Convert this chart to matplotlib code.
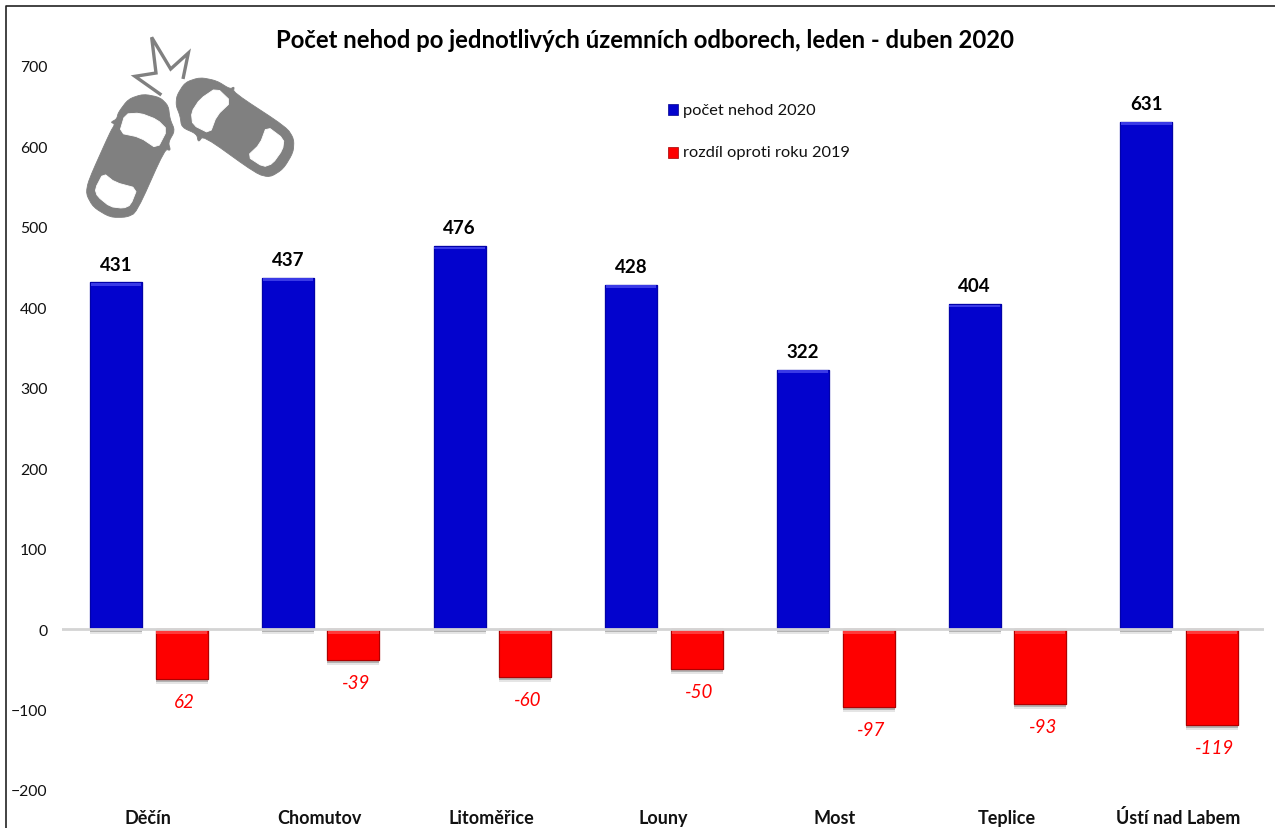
import matplotlib
matplotlib.use("Agg")
import numpy as np
import matplotlib.pyplot as plt
from matplotlib.patches import Polygon, Rectangle
import matplotlib.patheffects as pe

plt.rcParams['font.family'] = ['Lato', 'DejaVu Sans']

# Data
categories = ['Děčín', 'Chomutov', 'Litoměřice', 'Louny', 'Most', 'Teplice', 'Ústí nad Labem']
pocet_2020 = [431, 437, 476, 428, 322, 404, 631]
rozdil_2019 = [-62, -39, -60, -50, -97, -93, -119]
rozdil_labels = ['62', '-39', '-60', '-50', '-97', '-93', '-119']
yticks = [-200, -100, 0, 100, 200, 300, 400, 500, 600, 700]

W, H = 1275, 829
fig = plt.figure(figsize=(W / 100, H / 100), dpi=100)


def chaikin(pts, n=2):
    # rounds off the corners of a traced outline
    p = np.array(pts, dtype=float)
    for _ in range(n):
        q = np.roll(p, -1, axis=0)
        p = np.column_stack([0.8 * p + 0.2 * q, 0.2 * p + 0.8 * q]).reshape(-1, 2)
    return p


# overlay in pixel coordinates for the frame and the icon
bg = fig.add_axes([0, 0, 1, 1])
bg.set_xlim(0, W)
bg.set_ylim(H, 0)
bg.axis('off')
bg.plot([6, 6, W], [H, 7, 7], color='#222222', lw=1.2)

# axes placed so that 0 sits at y=630 and 100 units = 80.4 px
top, bottom = 67, 791
ax = fig.add_axes([62 / W, 1 - bottom / H, (1264 - 62) / W, (bottom - top) / H])
ax.patch.set_alpha(0)
ax.set_xlim(-0.5, 6.5)
ax.set_ylim(-200, 700)

x = np.arange(len(categories))
bar_w = 0.303
off_blue, off_red = -0.185, 0.197
shadow = [pe.withSimplePatchShadow(offset=(0, -3.5), shadow_rgbFace='#999999', alpha=0.25),
          pe.withSimplePatchShadow(offset=(0, -2), shadow_rgbFace='#777777', alpha=0.45), pe.Normal()]

ax.bar(x + off_blue, pocet_2020, bar_w, color='#0303CD', edgecolor='#0202A8', linewidth=0.8,
       path_effects=shadow, zorder=3, label='počet nehod 2020')
ax.bar(x + off_red, rozdil_2019, bar_w, color='#FE0000', edgecolor='#B00000', linewidth=0.8,
       path_effects=shadow, zorder=3, label='rozdíl oproti roku 2019')

# lighter bevel along the top of each bar
for i in range(len(x)):
    ax.bar(x[i] + off_blue, -3.5, bar_w * 0.97, bottom=pocet_2020[i] - 0.5, color='#3A3AE6', linewidth=0, zorder=4)
    ax.bar(x[i] + off_red, -3, bar_w * 0.97, bottom=-2.5, color='#FF3A3A', linewidth=0, zorder=4)

ax.axhline(0, color='#D4D4D4', lw=2, zorder=5)

for i, v in enumerate(pocet_2020):
    ax.annotate(str(v), (x[i] + off_blue, v), xytext=(0, 7), textcoords='offset points',
                ha='center', va='bottom', fontsize=13.5, fontweight='bold', color='black', zorder=5)
for i, v in enumerate(rozdil_2019):
    ax.annotate(rozdil_labels[i], (x[i] + off_red, v), xytext=(2, -10), textcoords='offset points',
                ha='center', va='top', fontsize=13.5, style='italic', color='#FF0000', zorder=5)

ax.set_yticks(yticks)
ax.set_xticks([])
ax.tick_params(axis='y', length=0, pad=10.5, labelsize=11.3, labelcolor='#111111')
for s in ax.spines.values():
    s.set_visible(False)

# category names sit at the very bottom edge of the picture
for i, name in enumerate(categories):
    ax.annotate(name, (x[i], 0), xycoords=('data', 'axes fraction'), xytext=(0, -19.5),
                textcoords='offset points', ha='center', va='center',
                fontsize=13, fontweight='bold', color='#111111')

fig.text(645 / W, 1 - 40 / H, 'Počet nehod po jednotlivých územních odborech, leden - duben 2020',
         ha='center', va='center', fontsize=17.2, fontweight='bold', color='black')

# legend
bg.add_patch(Rectangle((668, 105), 10, 11, facecolor='#0303CD', edgecolor='#02028C', lw=0.5))
bg.add_patch(Rectangle((668, 148), 10, 11, facecolor='#FE0000', edgecolor='#A00000', lw=0.5))
bg.text(683, 111, 'počet nehod 2020', va='center', ha='left', fontsize=11.8, color='#111111')
bg.text(683, 153, 'rozdíl oproti roku 2019', va='center', ha='left', fontsize=11.8, color='#111111')

# crash icon, traced in pixels from the picture
gray = '#808080'
car1 = [(355, 340), (385, 300), (430, 285), (480, 295), (505, 320), (510, 360), (525, 395), (505, 430),
        (512, 455), (495, 450), (410, 640), (380, 655), (330, 655), (280, 625), (258, 585), (265, 545),
        (330, 400), (345, 375), (332, 370), (350, 360)]
car1_front = [(375, 345), (420, 342), (472, 362), (502, 392), (472, 450), (420, 415), (358, 402)]
car1_rear = [(310, 522), (345, 550), (412, 568), (392, 618), (370, 628), (330, 623), (292, 592), (285, 570)]
car2 = [(530, 290), (555, 250), (600, 235), (650, 245), (690, 270), (703, 263), (700, 280), (860, 385),
        (882, 420), (880, 460), (850, 510), (810, 535), (770, 525), (610, 410), (595, 430), (590, 405),
        (545, 385), (540, 350), (528, 320)]
car2_front = [(650, 266), (694, 308), (650, 350), (630, 404), (578, 378), (574, 340), (600, 300)]
car2_rear = [(800, 381), (852, 420), (848, 452), (818, 494), (790, 504), (741, 472), (780, 435)]
star = [(480, 285), (405, 232), (468, 222), (455, 115), (512, 210), (565, 162), (550, 235)]

for pts, col, n in [(car1, gray, 2), (car1_front, 'white', 1), (car1_rear, 'white', 1),
                    (car2, gray, 2), (car2_front, 'white', 1), (car2_rear, 'white', 1)]:
    bg.add_patch(Polygon(chaikin(pts, n) / 3, closed=True, facecolor=col, edgecolor=col, lw=0.6, joinstyle='round'))
s = np.array(star) / 3
bg.plot(s[:, 0], s[:, 1], color=gray, lw=2.4, solid_joinstyle='miter')

fig.savefig('out.png', dpi=100)
